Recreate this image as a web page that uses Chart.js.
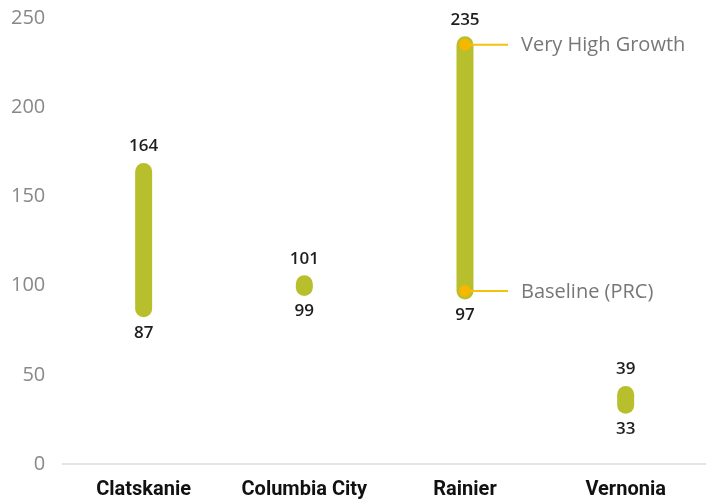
<!DOCTYPE html>
<html>
<head>
<meta charset="utf-8">
<script src="https://cdn.jsdelivr.net/npm/chart.js@4/dist/chart.umd.min.js"></script>
<style>
  html,body{margin:0;padding:0;background:#fff;}
  #wrap{width:706px;height:502px;position:relative;overflow:hidden;}
</style>
</head>
<body>
<div id="wrap"><canvas id="c"></canvas></div>
<script>
const categories = ['Clatskanie', 'Columbia City', 'Rainier', 'Vernonia'];
const baseline = [87, 99, 97, 33];
const veryHigh = [164, 101, 235, 39];
const yTicks = [0, 50, 100, 150, 200, 250];
const annotatedCategory = 'Rainier';
const annotationLabels = ['Very High Growth', 'Baseline (PRC)'];

const barColor = '#b8bf2c';
const dotColor = '#f7b600';
const lineColor = '#f4c20d';
const FONT = "'Open Sans', 'Noto Sans', sans-serif";

const datasets = categories.map((cat, i) => ({
  type: 'line',
  order: 1,
  data: [{x: cat, y: baseline[i]}, {x: cat, y: veryHigh[i]}],
  borderColor: barColor,
  borderWidth: 17,
  borderCapStyle: 'round',
  pointRadius: 0,
  pointHoverRadius: 0,
  fill: false,
  clip: false
}));
const ai = categories.indexOf(annotatedCategory);
datasets.push({
  type: 'line',
  order: -1,
  showLine: false,
  clip: false,
  data: [{x: annotatedCategory, y: veryHigh[ai]}, {x: annotatedCategory, y: baseline[ai]}],
  pointRadius: 6,
  pointBackgroundColor: dotColor,
  pointBorderWidth: 0,
  borderColor: dotColor
});

const labelPlugin = {
  id: 'labels',
  afterDatasetsDraw(chart) {
    const ctx = chart.ctx, xs = chart.scales.x, ys = chart.scales.y;
    ctx.save();
    ctx.textAlign = 'center';
    ctx.textBaseline = 'middle';
    ctx.fillStyle = '#1e1e1e';
    ctx.font = "600 17px " + FONT;
    categories.forEach((c, i) => {
      const x = xs.getPixelForValue(i);
      ctx.fillText(String(veryHigh[i]), x, ys.getPixelForValue(veryHigh[i]) - 25);
      ctx.fillText(String(baseline[i]), x, ys.getPixelForValue(baseline[i]) + 24);
    });
    const x = xs.getPixelForValue(ai);
    const vals = [veryHigh[ai], baseline[ai]];
    vals.forEach((v, k) => {
      const y = ys.getPixelForValue(v);
      ctx.strokeStyle = lineColor;
      ctx.lineWidth = 2;
      ctx.beginPath();
      ctx.moveTo(x + 5, y);
      ctx.lineTo(x + 43, y);
      ctx.stroke();
      ctx.fillStyle = '#777';
      ctx.textAlign = 'left';
      ctx.font = "400 20px " + FONT;
      ctx.fillText(annotationLabels[k], x + 56, y + 1);
    });
    ctx.restore();
  }
};

new Chart(document.getElementById('c'), {
  type: 'line',
  data: { labels: categories, datasets },
  options: {
    responsive: true,
    maintainAspectRatio: false,
    animation: false,
    events: [],
    layout: { autoPadding: false, padding: { top: 18, left: -7, right: -8, bottom: -14 } },
    plugins: { legend: { display: false }, tooltip: { enabled: false } },
    scales: {
      x: {
        type: 'category',
        offset: true,
        grid: { display: false, drawTicks: false },
        border: { display: true, color: '#e4e4e4', width: 2 },
        ticks: { color: '#111', font: { family: "Roboto, " + FONT, size: 20, weight: 'bold' }, padding: 14 }
      },
      y: {
        min: 0, max: 250,
        afterBuildTicks(scale) { scale.ticks = yTicks.map(v => ({ value: v })); },
        afterFit(scale) { scale.paddingTop = 0; scale.paddingBottom = 0; },
        grid: { display: false, drawTicks: false },
        border: { display: false },
        ticks: { color: '#888', font: { family: FONT, size: 20 }, padding: 18 }
      }
    }
  },
  plugins: [labelPlugin]
});
</script>
</body>
</html>
